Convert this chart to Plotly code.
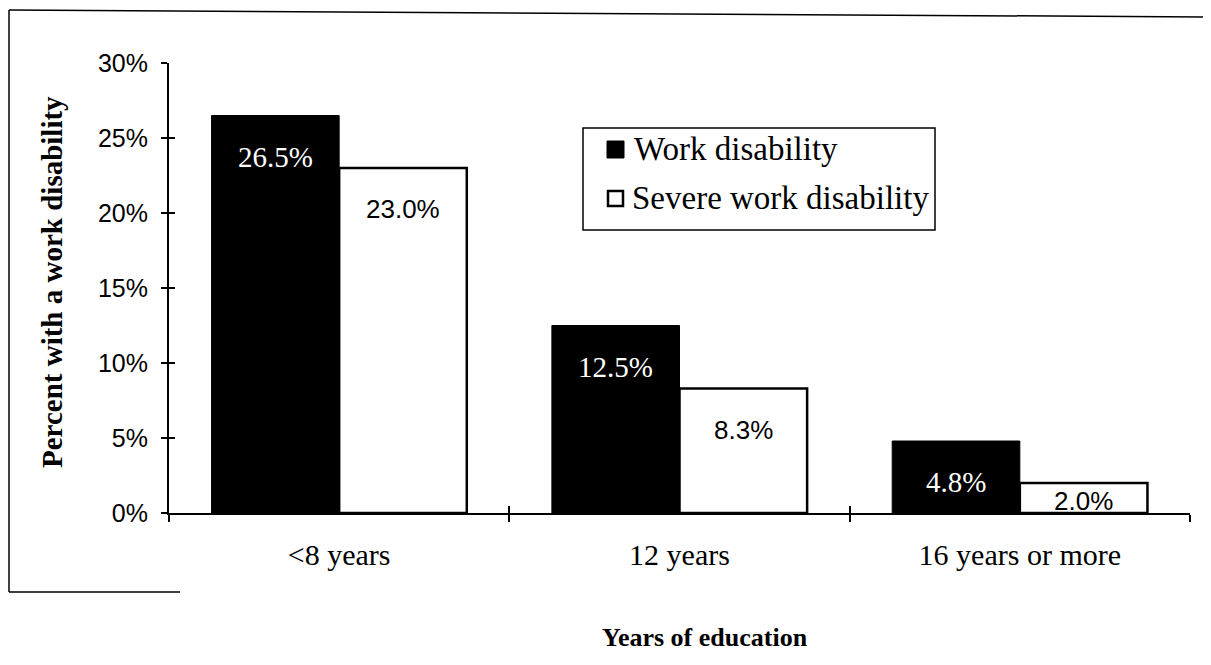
import plotly.graph_objects as go

categories = ["<8 years", "12 years", "16 years or more"]
work_disability = [26.5, 12.5, 4.8]
severe_work_disability = [23.0, 8.3, 2.0]
series_names = ["Work disability", "Severe work disability"]
y_ticks = [0, 5, 10, 15, 20, 25, 30]

# the page body has an 8px margin; lay the figure out in window pixels
OFF = 8
W, H = 1211 - OFF, 665 - OFF
L, R, T, B = 169 - OFF, 21, 63 - OFF, 152
PW, PH = W - L - R, H - T - B


def px(xp):
    return (xp - OFF - L) / PW


def py(yp):
    return (H - B - (yp - OFF)) / PH


fig = go.Figure()
fig.add_trace(go.Bar(x=categories, y=work_disability, name=series_names[0],
                     marker=dict(color="black", line=dict(color="black", width=1)),
                     showlegend=False, hoverinfo="skip"))
fig.add_trace(go.Bar(x=categories, y=severe_work_disability, name=series_names[1],
                     marker=dict(color="white", line=dict(color="black", width=2.5)),
                     showlegend=False, hoverinfo="skip"))
# invisible trace so the overlay axes (crossing tick marks) are drawn
fig.add_trace(go.Scatter(x=categories, y=[0, 0, 0], xaxis="x2", yaxis="y2",
                         mode="markers", marker=dict(opacity=0), showlegend=False,
                         hoverinfo="skip"))

annotations = []
half = PW / 3 * 0.75 / 4
for i, c in enumerate(categories):
    v = work_disability[i]
    annotations.append(dict(x=c, y=max(v - 2.75, v * 0.35), xref="x", yref="y",
                            text=f"{v:.1f}%", showarrow=False, xshift=-half,
                            xanchor="center", yanchor="middle",
                            font=dict(family="Liberation Serif", size=29, color="white")))
    v = severe_work_disability[i]
    annotations.append(dict(x=c, y=max(v - 2.75, v * 0.4), xref="x", yref="y",
                            text=f"{v:.1f}%", showarrow=False, xshift=half,
                            xanchor="center", yanchor="middle",
                            font=dict(family="Liberation Sans", size=26, color="black")))

# axis titles
annotations.append(dict(x=px(52), y=py(282), xref="paper", yref="paper",
                        xanchor="center", yanchor="middle",
                        text="<b>Percent with a work disability</b>", textangle=-90,
                        showarrow=False,
                        font=dict(family="Liberation Serif", size=29, color="black")))
annotations.append(dict(x=px(705), y=py(637), xref="paper", yref="paper",
                        xanchor="center", yanchor="middle",
                        text="<b>Years of education</b>", showarrow=False,
                        font=dict(family="Liberation Serif", size=26, color="black")))

# manual legend
annotations.append(dict(x=px(632), y=py(149), xref="paper", yref="paper",
                        xanchor="left", yanchor="middle", text=series_names[0],
                        showarrow=False,
                        font=dict(family="Liberation Serif", size=33, color="black")))
annotations.append(dict(x=px(630), y=py(198), xref="paper", yref="paper",
                        xanchor="left", yanchor="middle", text=series_names[1],
                        showarrow=False,
                        font=dict(family="Liberation Serif", size=33, color="black")))

shapes = [
    dict(type="rect", xref="paper", yref="paper", x0=px(583), x1=px(935),
         y0=py(230), y1=py(128), line=dict(color="black", width=1.5),
         fillcolor="white", layer="below"),
    dict(type="rect", xref="paper", yref="paper", x0=px(607), x1=px(624),
         y0=py(158), y1=py(141), line=dict(color="black", width=1),
         fillcolor="black", layer="above"),
    dict(type="rect", xref="paper", yref="paper", x0=px(608), x1=px(623),
         y0=py(206), y1=py(191), line=dict(color="black", width=2.5),
         fillcolor="white", layer="above"),
    # scanned page frame
    dict(type="line", xref="paper", yref="paper", x0=px(9), x1=px(1211),
         y0=py(10), y1=py(17), line=dict(color="black", width=1.5)),
    dict(type="line", xref="paper", yref="paper", x0=px(9), x1=px(9),
         y0=py(10), y1=py(592), line=dict(color="black", width=1.5)),
    dict(type="line", xref="paper", yref="paper", x0=px(9), x1=px(180),
         y0=py(592), y1=py(592), line=dict(color="black", width=1.5)),
]

fig.update_layout(
    width=W, height=H,
    margin=dict(l=L, r=R, t=T, b=B, pad=0),
    paper_bgcolor="white", plot_bgcolor="white",
    barmode="group", bargap=0.25, bargroupgap=0,
    xaxis=dict(type="category", categoryarray=categories, range=[-0.5, 2.5],
               showline=True, linecolor="black", linewidth=1.5,
               ticks="outside", ticklen=7, tickwidth=1.5, tickcolor="black",
               tickson="boundaries", showgrid=False, zeroline=False,
               ticklabelstandoff=14,
               tickfont=dict(family="Liberation Serif", size=30, color="black")),
    yaxis=dict(range=[0, 30], tickvals=y_ticks, ticktext=[f"{t}%" for t in y_ticks],
               showline=True, linecolor="black", linewidth=2,
               ticks="outside", ticklen=6, tickwidth=1.5, tickcolor="black",
               showgrid=False, zeroline=False, ticklabelstandoff=8,
               tickfont=dict(family="Liberation Sans", size=25, color="black")),
    xaxis2=dict(type="category", categoryarray=categories, range=[-0.5, 2.5],
                overlaying="x", side="bottom", anchor="y2",
                ticks="inside", ticklen=7, tickwidth=1.5, tickcolor="black",
                tickson="boundaries", showticklabels=False, showline=False,
                showgrid=False, zeroline=False),
    yaxis2=dict(range=[0, 30], tickvals=y_ticks, overlaying="y", side="left",
                anchor="x2", ticks="inside", ticklen=6, tickwidth=1.5,
                tickcolor="black", showticklabels=False, showline=False,
                showgrid=False, zeroline=False),
    shapes=shapes,
    annotations=annotations,
    showlegend=False,
)

fig.write_html("out.html")
